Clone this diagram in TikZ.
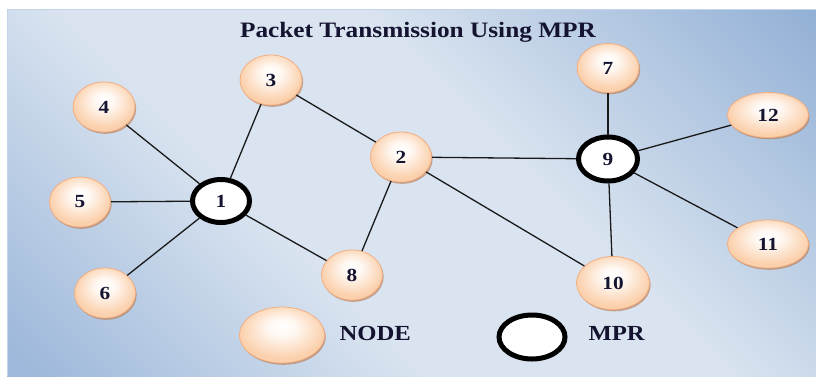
\documentclass[tikz,border=0pt]{standalone}
\usepackage{fontspec}
\setmainfont{Liberation Serif}
\usepackage{graphicx}
\usetikzlibrary{shapes.geometric,shadows}

\definecolor{plight}{HTML}{DAE4F0}
\definecolor{pdarkTR}{HTML}{93B1D6}
\definecolor{pdarkBL}{HTML}{9DB8DA}
\definecolor{peach}{HTML}{FBD0AC}
\definecolor{peachedge}{HTML}{F3AE80}
\definecolor{peachshadow}{HTML}{B88462}
\definecolor{txt}{HTML}{141430}
\definecolor{panelborder}{HTML}{C3D3E8}

\pgfdeclarehorizontalshading{panelshade}{100bp}{color(0bp)=(pdarkBL); color(16bp)=(pdarkBL); color(40bp)=(plight); color(58bp)=(plight); color(85bp)=(pdarkTR); color(100bp)=(pdarkTR)}
\pgfdeclareradialshading{peachshade}{\pgfpoint{0bp}{8bp}}{color(0bp)=(white); color(8bp)=(white!85!peach); color(25bp)=(peach); color(50bp)=(peach)}

\newcommand{\hs}[1]{\scalebox{1.15}[1]{#1}}

\tikzset{
  peachnode/.style={ellipse, draw=peachedge, line width=0.8pt, shading=peachshade,
    drop shadow={shadow xshift=1.2pt, shadow yshift=-1.8pt, fill=peachshadow, opacity=0.7},
    inner sep=0pt, text=txt, font=\fontsize{18.5}{21}\selectfont\bfseries},
  mprnode/.style={ellipse, draw=black, line width=5pt, fill=white,
    inner sep=0pt, text=txt, font=\fontsize{18.5}{21}\selectfont\bfseries},
  edge/.style={draw=black!90, line width=1.3pt},
  legendtext/.style={anchor=base west, text=txt, font=\fontsize{21.5}{24}\selectfont\bfseries}
}

\begin{document}
\begin{tikzpicture}[x=1pt,y=-1pt]
\useasboundingbox (0,0) rectangle (816,376);
\fill[white] (0,0) rectangle (816,376);
\shade[shading=panelshade, shading angle=45] (7,9) rectangle (816,376);
\draw[panelborder, line width=1pt] (7,376) -- (7,9) -- (816,9);

\node[anchor=base, text=txt, font=\fontsize{22}{24}\selectfont\bfseries] (title) at (418,37) {\hs{Packet Transmission Using MPR}};

% peach nodes
\node[peachnode, minimum width=62pt, minimum height=50pt] (n4) at (104,107) {\hs{4}};
\node[peachnode, minimum width=61pt, minimum height=50pt] (n5) at (80,202) {\hs{5}};
\node[peachnode, minimum width=61pt, minimum height=50pt] (n6) at (105,293) {\hs{6}};
\node[peachnode, minimum width=62pt, minimum height=50pt] (n3) at (271,80) {\hs{3}};
\node[peachnode, minimum width=61pt, minimum height=50pt] (n2) at (401,157) {\hs{2}};
\node[peachnode, minimum width=61pt, minimum height=50pt] (n8) at (352,275) {\hs{8}};
\node[peachnode, minimum width=62pt, minimum height=49pt] (n7) at (608,68) {\hs{7}};
\node[peachnode, minimum width=81pt, minimum height=45pt] (n12) at (768,115) {\hs{12}};
\node[peachnode, minimum width=81pt, minimum height=48pt] (n11) at (768,244) {\hs{11}};
\node[peachnode, minimum width=73pt, minimum height=53pt] (n10) at (613,283) {\hs{10}};

% MPR nodes
\node[mprnode, minimum width=57pt, minimum height=43pt] (n1) at (221,201) {\hs{1}};
\node[mprnode, minimum width=59pt, minimum height=44pt] (n9) at (608,159) {\hs{9}};

% edges
\draw[edge] (n1) -- (n4);
\draw[edge] (n1) -- (n5);
\draw[edge] (n1) -- (n6);
\draw[edge] (n1) -- (n3);
\draw[edge] (n1) -- (n8);
\draw[edge] (n3) -- (n2);
\draw[edge] (n2) -- (n8);
\draw[edge] (n2) -- (n9);
\draw[edge] (n2) -- (n10);
\draw[edge] (n9) -- (n7);
\draw[edge] (n9) -- (n12);
\draw[edge] (n9) -- (n11);
\draw[edge] (n9) -- (n10);

% legend
\node[peachnode, minimum width=85pt, minimum height=56pt] (lnode) at (282,335) {};
\node[legendtext] (lnodetext) at (336,340) {\hs{NODE}};
\node[mprnode, minimum width=66pt, minimum height=44pt] (lmpr) at (532,337) {};
\node[legendtext] (lmprtext) at (585,340) {\hs{MPR}};
\end{tikzpicture}
\end{document}
